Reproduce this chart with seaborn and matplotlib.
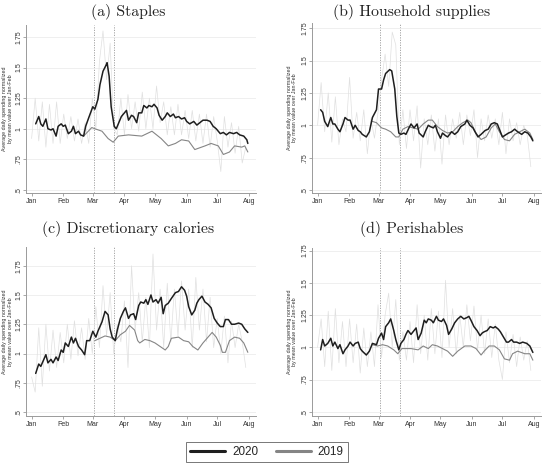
import pandas as pd
import matplotlib
matplotlib.use("Agg")
import matplotlib.pyplot as plt
import matplotlib.dates as mdates
from matplotlib.lines import Line2D
import seaborn as sns

START = pd.Timestamp("2020-01-01")
Y_TICKS = [0.5, 0.75, 1.0, 1.25, 1.5, 1.75]
Y_TICK_LABELS = [".5", ".75", "1", "1.25", "1.5", "1.75"]
EVENT_DAYS = [61, 81]
YLABEL = "Average daily spending normalized\nby mean value over Jan-Feb"
LEGEND_LABELS = ["2020", "2019"]

# (a) Staples
staples_days_2020 = [4, 7, 9, 11, 14, 16, 19, 21, 24, 26, 29, 31, 33, 36, 39, 41, 43, 46, 48, 51,
                     53, 56, 60, 62, 65, 67, 70, 73, 74, 76, 78, 81, 83, 86, 88, 91, 93, 95, 98, 100,
                     103, 105, 108, 110, 113, 115, 118, 120, 123, 125, 128, 131, 133, 136, 139, 141,
                     144, 147, 150, 152, 155, 159, 162, 165, 168, 172, 175, 178, 181, 185, 188, 191,
                     194, 198, 201, 204, 208, 211, 212]
staples_2020 = [1.04, 1.10, 1.04, 1.02, 1.08, 1.00, 0.99, 1.00, 0.94, 1.02, 1.04, 1.02, 1.03, 0.96,
                0.98, 1.02, 0.96, 0.98, 0.95, 0.94, 1.02, 1.09, 1.18, 1.16, 1.24, 1.36, 1.47, 1.52,
                1.54, 1.43, 1.18, 1.02, 1.00, 1.06, 1.10, 1.13, 1.15, 1.07, 1.11, 1.10, 1.05, 1.13,
                1.13, 1.19, 1.17, 1.19, 1.18, 1.20, 1.17, 1.11, 1.07, 1.10, 1.13, 1.10, 1.12, 1.09,
                1.10, 1.08, 1.09, 1.06, 1.04, 1.06, 1.03, 1.05, 1.07, 1.07, 1.06, 1.02, 1.00, 0.96,
                0.97, 0.95, 0.97, 0.96, 0.97, 0.95, 0.94, 0.91, 0.88]
staples_days_2019 = [51, 59, 62, 69, 75, 80, 85, 95, 108, 118, 127, 134, 141, 147, 154, 160, 170,
                     176, 183, 188, 194, 199, 206, 209, 212]
staples_2019 = [0.94, 1.01, 1.00, 0.98, 0.92, 0.89, 0.94, 0.95, 0.94, 0.98, 0.92, 0.86, 0.88,
                0.91, 0.90, 0.83, 0.86, 0.88, 0.86, 0.79, 0.81, 0.86, 0.85, 0.86, 0.81]
staples_raw = [0.92, 1.25, 0.90, 1.22, 0.85, 1.20, 0.88, 1.22, 0.88,
               1.12, 0.92, 1.10, 0.90, 1.08, 0.88, 1.05, 0.88,
               1.25, 1.00, 1.55, 1.80, 1.40, 1.70, 1.00, 0.95,
               1.25, 0.95, 1.28, 1.00, 1.22, 0.98, 1.30, 1.00, 1.25,
               1.00, 1.35, 1.05, 1.22, 0.95, 1.18, 0.95, 1.20, 0.95,
               1.15, 0.92, 1.15, 0.90, 1.12, 0.88, 1.12, 0.85, 1.10,
               0.90, 0.65, 1.10, 0.85, 1.05, 0.80, 1.02, 0.72, 0.85]

# (b) Household supplies
household_days_2020 = [3, 5, 7, 10, 13, 15, 17, 20, 22, 25, 27, 30, 32, 35, 37, 40, 42, 44, 48, 51,
                       54, 58, 60, 63, 65, 67, 71, 73, 76, 78, 80, 82, 85, 87, 90, 92, 95, 98, 100,
                       104, 106, 109, 111, 114, 116, 118, 121, 123, 126, 128, 132, 135, 138, 141,
                       145, 147, 150, 153, 155, 158, 161, 165, 168, 171, 174, 177, 179, 182, 184,
                       188, 191, 194, 197, 201, 204, 207, 210, 212]
household_2020 = [1.12, 1.10, 1.03, 0.99, 1.06, 1.01, 1.01, 0.97, 0.95, 1.01, 1.06, 1.04, 1.04,
                  0.97, 1.00, 0.96, 0.95, 0.93, 0.91, 0.95, 1.06, 1.12, 1.28, 1.28, 1.35, 1.40,
                  1.43, 1.42, 1.28, 1.07, 0.94, 0.93, 0.94, 0.93, 0.98, 1.01, 0.98, 1.01, 0.94,
                  0.91, 0.95, 1.00, 0.99, 0.98, 1.00, 0.95, 0.90, 0.94, 0.92, 0.91, 0.95, 0.93,
                  0.95, 0.99, 1.01, 1.04, 1.00, 0.98, 0.95, 0.91, 0.93, 0.96, 0.97, 1.01, 1.02,
                  1.01, 0.97, 0.91, 0.92, 0.94, 0.95, 0.97, 0.95, 0.93, 0.95, 0.94, 0.91, 0.88]
household_days_2019 = [54, 58, 63, 67, 72, 77, 80, 84, 89, 94, 99, 104, 109, 113, 118, 123, 128,
                       133, 138, 143, 148, 151, 156, 161, 166, 171, 175, 179, 184, 189, 194, 199,
                       204, 209, 212]
household_2019 = [1.03, 1.02, 0.98, 0.97, 0.95, 0.91, 0.91, 0.97, 0.99, 0.98, 0.97, 1.01, 1.04,
                  1.04, 0.99, 0.96, 0.94, 0.95, 0.99, 1.02, 1.04, 1.02, 0.94, 0.89, 0.91, 0.98,
                  1.01, 0.95, 0.89, 0.88, 0.93, 0.95, 0.97, 0.94, 0.89]
household_raw = [1.00, 1.33, 0.95, 1.25, 0.87, 1.22, 0.85, 1.05, 0.95,
                 1.37, 0.90, 1.10, 0.88, 1.12, 0.78, 1.05, 0.90,
                 1.10, 1.35, 1.55, 1.30, 1.72, 1.62, 0.85, 1.12,
                 0.82, 1.12, 0.88, 1.15, 0.67, 1.05, 0.85, 1.08, 0.80,
                 1.05, 0.70, 1.08, 0.85, 1.05, 0.90, 1.10, 0.85, 1.08,
                 0.92, 1.12, 0.75, 1.05, 0.88, 1.08, 0.90, 1.05, 0.85,
                 1.10, 0.78, 1.05, 0.88, 1.02, 0.85, 1.00, 0.92, 0.68]

# (c) Discretionary calories
discretionary_days_2020 = [4, 7, 9, 11, 14, 16, 19, 21, 24, 26, 29, 31, 33, 36, 39, 41, 43, 46, 49,
                           52, 54, 57, 60, 63, 65, 69, 72, 75, 77, 79, 82, 84, 87, 90, 92, 95, 97,
                           100, 102, 105, 107, 110, 112, 114, 117, 119, 122, 124, 127, 129, 131,
                           134, 137, 141, 144, 147, 150, 152, 154, 157, 160, 162, 164, 167, 170,
                           173, 176, 179, 182, 185, 188, 190, 193, 196, 199, 203, 206, 209, 212]
discretionary_2020 = [0.83, 0.91, 0.89, 0.93, 0.99, 0.92, 0.95, 0.92, 0.97, 0.94, 1.03, 1.01,
                      1.09, 1.06, 1.14, 1.09, 1.13, 1.06, 1.03, 0.99, 1.11, 1.11, 1.19, 1.14,
                      1.19, 1.27, 1.36, 1.33, 1.21, 1.14, 1.11, 1.20, 1.30, 1.36, 1.39, 1.30,
                      1.33, 1.34, 1.29, 1.41, 1.44, 1.43, 1.46, 1.42, 1.50, 1.44, 1.46, 1.43,
                      1.48, 1.34, 1.41, 1.43, 1.47, 1.52, 1.53, 1.57, 1.54, 1.49, 1.40, 1.33,
                      1.37, 1.43, 1.46, 1.49, 1.44, 1.42, 1.39, 1.30, 1.26, 1.23, 1.23, 1.29,
                      1.29, 1.25, 1.25, 1.26, 1.25, 1.21, 1.18]
discretionary_days_2019 = [62, 67, 72, 77, 82, 87, 92, 96, 101, 104, 106, 111, 116, 121, 126, 131,
                           134, 137, 144, 149, 154, 158, 163, 168, 173, 177, 181, 185, 187, 190,
                           194, 199, 204, 208, 212]
discretionary_2019 = [1.11, 1.13, 1.15, 1.14, 1.11, 1.16, 1.19, 1.24, 1.20, 1.11, 1.09, 1.12,
                      1.11, 1.09, 1.06, 1.03, 1.06, 1.13, 1.14, 1.11, 1.10, 1.06, 1.03, 1.09,
                      1.14, 1.18, 1.14, 1.07, 1.01, 1.01, 1.11, 1.14, 1.13, 1.09, 1.01]
discretionary_raw = [0.80, 0.67, 1.22, 0.72, 1.25, 0.85, 1.20, 0.88, 1.18,
                     0.92, 1.25, 0.95, 1.28, 0.98, 1.22, 0.95, 1.30,
                     1.00, 1.40, 1.05, 1.58, 1.15, 1.52, 1.00, 1.25,
                     1.10, 1.45, 0.88, 1.75, 1.20, 1.52, 1.10, 1.48, 1.05,
                     1.85, 1.20, 1.55, 1.05, 1.60, 1.10, 1.55, 1.15, 1.62,
                     1.20, 1.55, 1.05, 1.65, 1.20, 1.55, 1.10, 1.48, 1.05,
                     1.30, 1.00, 1.32, 0.92, 1.28, 1.05, 1.25, 1.10, 0.88]

# (d) Perishables
perishables_days_2020 = [3, 5, 7, 10, 13, 15, 17, 20, 22, 25, 27, 30, 32, 35, 37, 40, 42, 44, 48, 51,
                         54, 58, 60, 63, 65, 67, 70, 72, 75, 77, 80, 82, 85, 87, 89, 92, 95, 97,
                         99, 102, 105, 107, 109, 112, 114, 117, 119, 122, 124, 127, 129, 132, 135,
                         138, 141, 144, 147, 149, 151, 154, 157, 160, 162, 164, 167, 170, 173, 175,
                         178, 180, 183, 186, 188, 191, 193, 196, 199, 202, 206, 209, 212]
perishables_2020 = [0.98, 1.06, 1.01, 1.03, 1.07, 1.01, 1.04, 0.99, 1.02, 0.95, 0.98, 1.01, 1.04,
                    1.01, 1.03, 1.04, 0.99, 0.97, 0.94, 0.97, 1.03, 1.02, 1.07, 1.11, 1.06, 1.16,
                    1.19, 1.22, 1.13, 1.06, 0.98, 1.03, 1.06, 1.10, 1.13, 1.10, 1.13, 1.15, 1.06,
                    1.11, 1.21, 1.19, 1.22, 1.21, 1.19, 1.24, 1.21, 1.20, 1.22, 1.17, 1.10, 1.14,
                    1.19, 1.22, 1.24, 1.22, 1.23, 1.24, 1.21, 1.16, 1.13, 1.09, 1.11, 1.12, 1.13,
                    1.16, 1.15, 1.16, 1.14, 1.12, 1.08, 1.04, 1.04, 1.06, 1.04, 1.04, 1.03, 1.04,
                    1.03, 1.01, 0.96]
perishables_days_2019 = [54, 59, 64, 69, 75, 79, 83, 87, 92, 99, 104, 109, 113, 118, 123, 128, 133,
                         138, 145, 151, 156, 161, 164, 169, 174, 179, 184, 189, 192, 197, 204, 209,
                         212]
perishables_2019 = [1.02, 1.01, 1.02, 1.01, 0.98, 0.95, 0.99, 0.99, 0.99, 0.98, 1.01, 0.99, 1.02,
                    1.01, 0.99, 0.97, 0.93, 0.97, 1.01, 1.01, 0.99, 0.94, 0.97, 1.01, 1.01, 0.98,
                    0.91, 0.90, 0.95, 0.97, 0.95, 0.95, 0.90]
perishables_raw = [1.00, 1.22, 0.85, 1.28, 0.82, 1.30, 0.88, 1.20, 0.85,
                   1.22, 0.88, 1.18, 0.80, 1.15, 0.85, 1.12, 0.85,
                   1.33, 0.92, 1.25, 1.42, 1.00, 1.37, 0.90, 1.12,
                   0.90, 1.20, 0.88, 1.33, 0.95, 1.25, 0.90, 1.30, 0.95,
                   1.28, 0.92, 1.52, 1.00, 1.30, 0.95, 1.25, 1.00, 1.33,
                   1.05, 1.32, 0.98, 1.25, 0.95, 1.22, 0.92, 1.18, 0.90,
                   0.75, 1.12, 0.88, 1.10, 0.85, 1.08, 0.90, 1.05, 0.82]


def to_dates(days):
    return START + pd.to_timedelta(days, unit="D")


panels = [
    {"title": "(a) Staples", "rect": [26, 25, 230, 168], "ylim": (0.475, 1.848),
     "d20": staples_days_2020, "v20": staples_2020, "d19": staples_days_2019, "v19": staples_2019,
     "raw": staples_raw, "title_xy": (128, 12), "label_x": -0.058},
    {"title": "(b) Household supplies", "rect": [312, 23, 229, 170], "ylim": (0.477, 1.79),
     "d20": household_days_2020, "v20": household_2020, "d19": household_days_2019, "v19": household_2019,
     "raw": household_raw, "title_xy": (412, 12), "label_x": -0.064},
    {"title": "(c) Discretionary calories", "rect": [26, 247, 230, 169], "ylim": (0.466, 1.91),
     "d20": discretionary_days_2020, "v20": discretionary_2020, "d19": discretionary_days_2019,
     "v19": discretionary_2019, "raw": discretionary_raw, "title_xy": (128, 229), "label_x": -0.058},
    {"title": "(d) Perishables", "rect": [312, 248, 229, 168], "ylim": (0.467, 1.77),
     "d20": perishables_days_2020, "v20": perishables_2020, "d19": perishables_days_2019,
     "v19": perishables_2019, "raw": perishables_raw, "title_xy": (412, 229), "label_x": -0.064},
]

sns.set_theme(style="white")
plt.rcParams["font.family"] = ["Liberation Sans", "DejaVu Sans"]

W, H = 542, 465
fig = plt.figure(figsize=(W / 100, H / 100), dpi=100)

for p in panels:
    left, top, width, height = p["rect"]
    ax = fig.add_axes([left / W, 1 - (top + height) / H, width / W, height / H])

    raw_dates = pd.date_range(START, periods=len(p["raw"]), freq="84h")
    sns.lineplot(x=raw_dates, y=p["raw"], ax=ax, color="#e0e0e0", linewidth=0.5)
    sns.lineplot(x=to_dates(p["d19"]), y=p["v19"], ax=ax, color="#858585", linewidth=0.8)
    sns.lineplot(x=to_dates(p["d20"]), y=p["v20"], ax=ax, color="#1e1e1e", linewidth=1.1)

    for d in EVENT_DAYS:
        ax.axvline(to_dates([d])[0], color="#9a9a9a", linewidth=0.6, linestyle=(0, (1.5, 1.5)), zorder=0)

    ax.set_xlim(to_dates([-5.5])[0], to_dates([220])[0])
    ax.set_ylim(*p["ylim"])
    ax.set_yticks(Y_TICKS)
    ax.set_yticklabels(Y_TICK_LABELS, rotation=90, va="center")
    ax.xaxis.set_major_locator(mdates.MonthLocator())
    ax.xaxis.set_major_formatter(mdates.DateFormatter("%b"))

    ax.grid(axis="y", color="#ececec", linewidth=0.6)
    ax.set_axisbelow(True)
    for side in ["top", "right"]:
        ax.spines[side].set_visible(False)
    for side in ["left", "bottom"]:
        ax.spines[side].set_color("#9a9a9a")
        ax.spines[side].set_linewidth(0.7)
    ax.tick_params(axis="both", which="major", length=2.2, width=0.6, color="#9a9a9a",
                   labelsize=5.0, labelcolor="#333333", pad=1.2, bottom=True, left=True)
    ax.tick_params(axis="y", pad=0.6)
    ax.set_xlabel("")
    ax.set_ylabel(YLABEL, fontsize=3.9, color="#333333", linespacing=1.05)
    ax.yaxis.set_label_coords(p["label_x"], 0.5)

    tx, ty = p["title_xy"]
    fig.text(tx / W, 1 - ty / H, p["title"], ha="center", va="center",
             fontsize=11.3, family="cmr10", color="#222222")

handles = [Line2D([], [], color="#1e1e1e", linewidth=2.2),
           Line2D([], [], color="#858585", linewidth=2.2)]
leg = fig.legend(handles, LEGEND_LABELS, loc="center", bbox_to_anchor=(267 / W, 1 - 452 / H),
                 ncol=2, fontsize=8.4, frameon=True, fancybox=False, handlelength=3.0,
                 columnspacing=1.5, handletextpad=0.6, borderpad=0.35)
leg.get_frame().set_edgecolor("#555555")
leg.get_frame().set_linewidth(0.7)

fig.savefig("out.png", dpi=100)
